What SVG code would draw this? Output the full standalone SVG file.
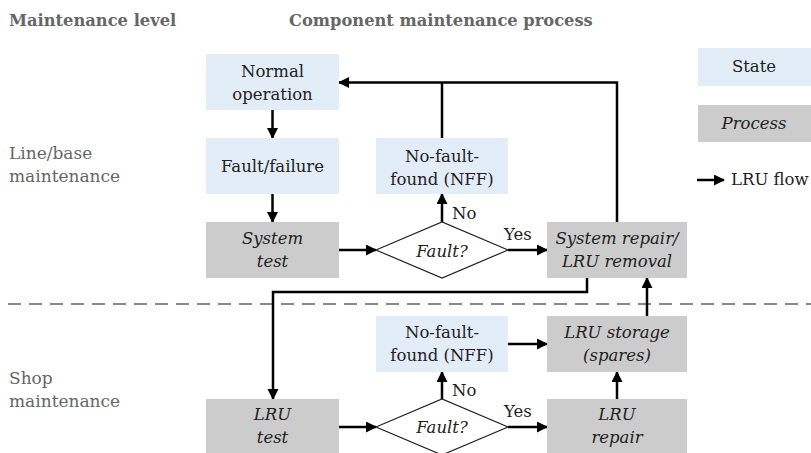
<svg xmlns="http://www.w3.org/2000/svg" width="811" height="453" viewBox="0 0 811 453">
  <style>
    text { font-family: "DejaVu Serif", "Liberation Serif", serif; font-size: 16.5px; fill: #222; }
    .head { font-weight: bold; font-size: 16.3px; fill: #666; }
    .lvl { fill: #666; font-size: 17px; }
    .c { text-anchor: middle; }
    .it { font-style: italic; }
    .state { fill: #e2edf7; }
    .proc { fill: #cccccc; }
    .dec { fill: #fff; stroke: #222; stroke-width: 1.2; }
    .flow { fill: none; stroke: #000; stroke-width: 2.5; }
    .flow.a { marker-end: url(#arr); }
    .sep { stroke: #888; stroke-width: 2; stroke-dasharray: 13 8; }
  </style>
  <defs>
    <marker id="arr" markerUnits="userSpaceOnUse" markerWidth="13" markerHeight="12" refX="10" refY="5.5" orient="auto">
      <path d="M0,0 L11,5.5 L0,11 z" fill="#000"/>
    </marker>
  </defs>

  <rect width="811" height="453" fill="#fff"/>

  <!-- headings and level labels -->
  <text class="head" x="9" y="26">Maintenance level</text>
  <text class="head" x="289" y="26">Component maintenance process</text>
  <text class="lvl" x="9" y="159">Line/base</text>
  <text class="lvl" x="9" y="182">maintenance</text>
  <text class="lvl" x="9" y="384">Shop</text>
  <text class="lvl" x="9" y="407">maintenance</text>

  <!-- level separator -->
  <line class="sep" x1="8" y1="304" x2="811" y2="304"/>

  <!-- connectors -->
  <g id="connectors">
    <line class="flow a" x1="272.5" y1="110" x2="272.5" y2="138"/>
    <line class="flow a" x1="272.5" y1="194" x2="272.5" y2="222"/>
    <line class="flow a" x1="339" y1="250" x2="376" y2="250"/>
    <line class="flow a" x1="508" y1="250" x2="547" y2="250"/>
    <line class="flow a" x1="442" y1="222" x2="442" y2="194"/>
    <polyline class="flow" points="442,138 442,82.5"/>
    <polyline class="flow a" points="617,222 617,82.5 339,82.5"/>
    <polyline class="flow a" points="587,278 587,292 273,292 273,399"/>
    <line class="flow a" x1="339" y1="427" x2="376" y2="427"/>
    <line class="flow a" x1="508" y1="427" x2="547" y2="427"/>
    <line class="flow a" x1="442" y1="400" x2="442" y2="372"/>
    <line class="flow a" x1="508" y1="344" x2="547" y2="344"/>
    <line class="flow a" x1="617" y1="399" x2="617" y2="372"/>
    <line class="flow a" x1="647" y1="316" x2="647" y2="278"/>
    <text x="452" y="219">No</text>
    <text x="504" y="240">Yes</text>
    <text x="452" y="396">No</text>
    <text x="504" y="417">Yes</text>
  </g>

  <!-- line/base level -->
  <g id="normal-operation">
    <rect class="state" x="206" y="54" width="133" height="56"/>
    <text class="c" x="272.5" y="77">Normal</text>
    <text class="c" x="272.5" y="100">operation</text>
  </g>
  <g id="fault-failure">
    <rect class="state" x="206" y="138" width="133" height="56"/>
    <text class="c" x="272.5" y="172">Fault/failure</text>
  </g>
  <g id="nff-line">
    <rect class="state" x="376" y="138" width="132" height="56"/>
    <text class="c" x="442" y="162">No-fault-</text>
    <text class="c" x="442" y="185">found (NFF)</text>
  </g>
  <g id="system-test">
    <rect class="proc" x="206" y="222" width="133" height="56"/>
    <text class="c it" x="272.5" y="244">System</text>
    <text class="c it" x="272.5" y="267">test</text>
  </g>
  <g id="fault-line">
    <polygon class="dec" points="376,250 442,222 508,250 442,278"/>
    <text class="c it" x="442" y="257">Fault?</text>
  </g>
  <g id="system-repair">
    <rect class="proc" x="547" y="222" width="140" height="56"/>
    <text class="c it" x="617" y="244">System repair/</text>
    <text class="c it" x="617" y="267">LRU removal</text>
  </g>

  <!-- shop level -->
  <g id="nff-shop">
    <rect class="state" x="376" y="316" width="132" height="56"/>
    <text class="c" x="442" y="338">No-fault-</text>
    <text class="c" x="442" y="361">found (NFF)</text>
  </g>
  <g id="lru-storage">
    <rect class="proc" x="547" y="316" width="140" height="56"/>
    <text class="c it" x="617" y="338">LRU storage</text>
    <text class="c it" x="617" y="361">(spares)</text>
  </g>
  <g id="lru-test">
    <rect class="proc" x="206" y="399" width="133" height="56"/>
    <text class="c it" x="272.5" y="420">LRU</text>
    <text class="c it" x="272.5" y="443">test</text>
  </g>
  <g id="fault-shop">
    <polygon class="dec" points="376,427 442,399 508,427 442,455"/>
    <text class="c it" x="442" y="433">Fault?</text>
  </g>
  <g id="lru-repair">
    <rect class="proc" x="547" y="399" width="140" height="56"/>
    <text class="c it" x="617" y="420">LRU</text>
    <text class="c it" x="617" y="443">repair</text>
  </g>

  <!-- legend -->
  <g id="legend-state">
    <rect class="state" x="698" y="48" width="113" height="38"/>
    <text class="c" x="754" y="72">State</text>
  </g>
  <g id="legend-process">
    <rect class="proc" x="698" y="105" width="113" height="37"/>
    <text class="c it" x="754" y="129">Process</text>
  </g>
  <g id="legend-flow">
    <line class="flow a" x1="697" y1="180" x2="724" y2="180"/>
    <text x="731" y="185">LRU flow</text>
  </g>
</svg>
